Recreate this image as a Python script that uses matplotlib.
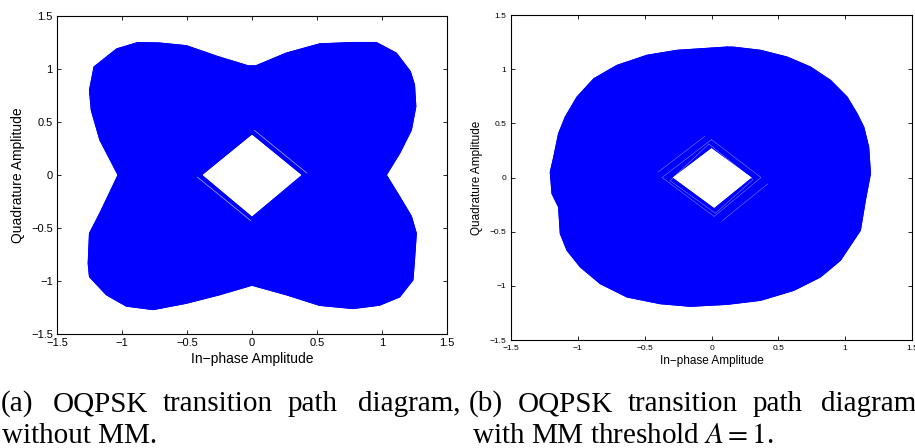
import matplotlib
matplotlib.use("Agg")
import matplotlib.pyplot as plt
from matplotlib.path import Path
from matplotlib.patches import PathPatch
import numpy as np

# ---- data ----
# (a) outer envelope of the transition paths, without MM
a_outer_x = [-1.25, -1.215, -1.04, -0.877, -0.71, -0.505, -0.27, -0.03, 0.03, 0.264, 0.52, 0.777, 0.956,
             1.11, 1.218, 1.25, 1.26, 1.226, 1.136, 1.033, 1.136, 1.226, 1.264, 1.25, 1.238, 1.136, 0.982,
             0.777, 0.52, 0.264, 0.0, -0.25, -0.505, -0.76, -0.967, -1.12, -1.25, -1.26, -1.25, -1.17,
             -1.03, -1.17, -1.236]
a_outer_y = [0.80, 1.02, 1.19, 1.25, 1.245, 1.22, 1.12, 1.03, 1.03, 1.15, 1.237, 1.25, 1.25,
             1.15, 0.976, 0.85, 0.645, 0.425, 0.205, 0.0, -0.205, -0.39, -0.55, -0.80, -0.99, -1.15, -1.228,
             -1.26, -1.23, -1.13, -1.04, -1.13, -1.21, -1.27, -1.237, -1.13, -0.96, -0.835, -0.55, -0.36,
             0.0, 0.33, 0.61]
# (a) inner empty diamond
a_inner_x = [0.0, 0.39, 0.0, -0.39]
a_inner_y = [0.39, 0.0, -0.40, 0.0]
# (a) light gaps between paths just outside the hole
a_gap1_x = [-0.42, -0.01]
a_gap1_y = [-0.02, -0.43]
a_gap2_x = [0.02, 0.42]
a_gap2_y = [0.42, 0.02]

# (b) outer envelope, with MM threshold A = 1
b_outer_x = [0.116, -0.258, -0.483, -0.707, -0.88, -1.006, -1.094, -1.144, -1.18, -1.206, -1.193, -1.144,
             -1.131, -1.081, -0.981, -0.832, -0.632, -0.383, -0.158, 0.116, 0.366, 0.615, 0.815, 0.964,
             1.064, 1.114, 1.151, 1.189, 1.176, 1.139, 1.089, 1.014, 0.89, 0.74, 0.565, 0.366, 0.166]
b_outer_y = [1.204, 1.174, 1.128, 1.035, 0.912, 0.743, 0.558, 0.405, 0.19, 0.05, -0.149, -0.272,
             -0.518, -0.672, -0.826, -0.98, -1.103, -1.165, -1.189, -1.171, -1.134, -1.042, -0.918, -0.765,
             -0.58, -0.487, -0.211, 0.035, 0.28, 0.466, 0.589, 0.743, 0.897, 1.02, 1.112, 1.174, 1.203]
# (b) inner empty diamond
b_inner_x = [0.0, 0.31, 0.02, -0.30]
b_inner_y = [0.28, 0.0, -0.29, 0.0]
# (b) light gaps around the hole
b_gap_x = [0.0, 0.37, 0.02, -0.37, 0.0]
b_gap_y = [0.35, 0.0, -0.36, 0.0, 0.35]
b_gap2_x = [-0.02, 0.31, 0.03, -0.31, -0.02]
b_gap2_y = [0.31, -0.02, -0.33, -0.03, 0.31]
b_gap3_x = [-0.40, -0.05]
b_gap3_y = [0.05, 0.38]
b_gap4_x = [0.08, 0.42]
b_gap4_y = [-0.40, -0.06]

ticks = [-1.5, -1, -0.5, 0, 0.5, 1, 1.5]
tick_labels = ["\u22121.5", "\u22121", "\u22120.5", "0", "0.5", "1", "1.5"]
xlabel = "In\u2212phase Amplitude"
ylabel = "Quadrature Amplitude"
cap_a_words = ["(a)", "OQPSK", "transition", "path", "diagram,"]
cap_b_words = ["(b)", "OQPSK", "transition", "path", "diagram"]
cap_a_line2 = "without MM."
cap_b_line2 = "with MM threshold $A = 1$."

BLUE = (0, 0, 1)

plt.rcParams['font.family'] = ['Liberation Sans', 'DejaVu Sans']
plt.rcParams['mathtext.fontset'] = 'stix'

fig = plt.figure(figsize=(9.15, 4.48), dpi=100)
W, H = 915, 448


def ax_rect(l, t, r, b):
    return [l / W, 1 - b / H, (r - l) / W, (b - t) / H]


def signed_area(xs, ys):
    x = np.asarray(xs)
    y = np.asarray(ys)
    return 0.5 * np.sum(x * np.roll(y, -1) - np.roll(x, -1) * y)


def ring(ax, ox, oy, ix, iy):
    outer = list(zip(ox, oy))
    inner = list(zip(ix, iy))
    # the hole must wind opposite to the envelope
    if np.sign(signed_area(ox, oy)) == np.sign(signed_area(ix, iy)):
        inner = inner[::-1]
    verts = outer + [outer[0]] + inner + [inner[0]]
    codes = ([Path.MOVETO] + [Path.LINETO] * (len(outer) - 1) + [Path.CLOSEPOLY]
             + [Path.MOVETO] + [Path.LINETO] * (len(inner) - 1) + [Path.CLOSEPOLY])
    ax.add_patch(PathPatch(Path(verts, codes), facecolor=BLUE, edgecolor=BLUE, lw=0.8))
    ax.plot(list(ox) + [ox[0]], list(oy) + [oy[0]], color=BLUE, lw=0.7)
    ax.plot(list(ix) + [ix[0]], list(iy) + [iy[0]], color=BLUE, lw=0.9)


def style(ax, tsize, pad):
    ax.set_xlim(-1.5, 1.5)
    ax.set_ylim(-1.5, 1.5)
    ax.set_xticks(ticks)
    ax.set_yticks(ticks)
    ax.set_xticklabels(tick_labels)
    ax.set_yticklabels(tick_labels)
    ax.tick_params(direction='in', length=3, width=0.6, top=True, right=True,
                   labelsize=tsize, pad=pad, colors='black')
    for s in ax.spines.values():
        s.set_linewidth(0.8)


ax1 = fig.add_axes(ax_rect(57, 16, 447, 334))
ring(ax1, a_outer_x, a_outer_y, a_inner_x, a_inner_y)
ax1.plot(a_gap1_x, a_gap1_y, color='white', lw=0.5, alpha=0.7)
ax1.plot(a_gap2_x, a_gap2_y, color='white', lw=0.5, alpha=0.7)
style(ax1, 8, 3)
ax1.set_xlabel(xlabel, fontsize=10, va='center')
ax1.set_ylabel(ylabel, fontsize=10, va='center')
ax1.xaxis.set_label_coords(0.5, (334 - 359) / 318)
ax1.yaxis.set_label_coords((18 - 57) / 390, 0.5)

ax2 = fig.add_axes(ax_rect(511, 15, 912, 340))
ring(ax2, b_outer_x, b_outer_y, b_inner_x, b_inner_y)
for gx, gy in [(b_gap_x, b_gap_y), (b_gap2_x, b_gap2_y), (b_gap3_x, b_gap3_y), (b_gap4_x, b_gap4_y)]:
    ax2.plot(gx, gy, color='white', lw=0.4, alpha=0.5)
style(ax2, 6, 3.5)
ax2.set_xlabel(xlabel, fontsize=8.5, va='center')
ax2.set_ylabel(ylabel, fontsize=8.5, va='center')
ax2.xaxis.set_label_coords(0.5, (340 - 361) / 325)
ax2.yaxis.set_label_coords((477 - 511) / 401, 0.5)

# captions (justified first line: words centred where the reference has them)
cap_font = dict(family=['Liberation Serif', 'DejaVu Serif'], fontsize=21, va='baseline')
for w, x in zip(cap_a_words, [17.5, 100, 217.5, 312.5, 409]):
    fig.text(x / W, 1 - 411 / H, w, ha='center', **cap_font)
for w, x in zip(cap_b_words, [485.5, 565, 682.5, 777.5, 869]):
    fig.text(x / W, 1 - 411 / H, w, ha='center', **cap_font)
fig.text(2 / W, 1 - 443 / H, cap_a_line2, ha='left', **cap_font)
fig.text(472 / W, 1 - 443 / H, cap_b_line2, ha='left', **cap_font)

fig.savefig("out.png", dpi=100)
